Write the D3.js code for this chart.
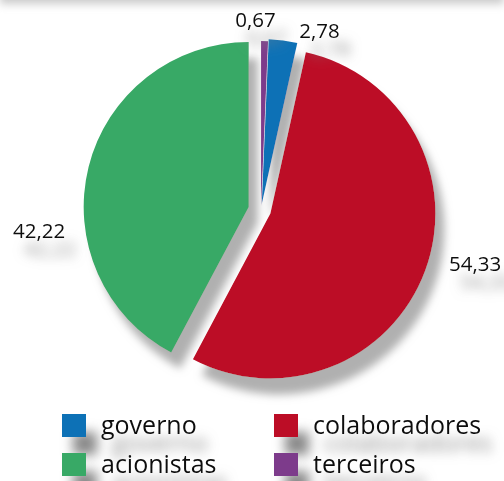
<!DOCTYPE html>
<html>
<head>
<meta charset="utf-8">
<script src="https://cdn.jsdelivr.net/npm/d3@7"></script>
<style>
  html, body { margin: 0; padding: 0; background: #fff; }
  svg { display: block; }
  text { font-family: "Open Sans", "Noto Sans", sans-serif; fill: #111; }
</style>
</head>
<body>
<script>
// Value distribution, clockwise from 12 o'clock
const categories = ["terceiros", "governo", "colaboradores", "acionistas"];
const values = [0.67, 2.78, 54.33, 42.22];
const valueLabels = ["0,67", "2,78", "54,33", "42,22"];
const colors = ["#7d3a8b", "#0c71b6", "#bc0b28", "#38a966"];
const legendOrder = ["governo", "colaboradores", "acionistas", "terceiros"];

const width = 504, height = 481;
const cx = 261, cy = 210, radius = 165;

// how far each slice is pulled out from the centre, px
const explode = { terceiros: 4, governo: 6, colaboradores: 10, acionistas: 12.7 };
// where each value label sits: angle (deg, clockwise from top) and distance from centre
const labelPlace = {
  terceiros:     { angle: -1.65, r: 190.6 },
  governo:       { angle: 18.1,  r: 188.3 },
  colaboradores: { angle: 104.0, r: 220.6 },
  acionistas:    { angle: -95.4, r: 222.8 }
};

const color = d3.scaleOrdinal().domain(categories).range(colors);
const labelOf = new Map(categories.map((c, i) => [c, valueLabels[i]]));

const svg = d3.select("body").append("svg")
  .attr("width", width).attr("height", height);

const defs = svg.append("defs");

// drop shadow: blurred, offset copy of the shape's alpha under the shape
function shadowFilter(id, blur, dx, dy, tone) {
  const f = defs.append("filter").attr("id", id)
    .attr("filterUnits", "userSpaceOnUse")
    .attr("x", -60).attr("y", -60).attr("width", width + 120).attr("height", height + 120);
  f.append("feGaussianBlur").attr("in", "SourceAlpha").attr("stdDeviation", blur).attr("result", "blur");
  f.append("feOffset").attr("in", "blur").attr("dx", dx).attr("dy", dy).attr("result", "off");
  f.append("feFlood").attr("flood-color", tone).attr("result", "col");
  f.append("feComposite").attr("in", "col").attr("in2", "off").attr("operator", "in").attr("result", "shadow");
  const m = f.append("feMerge");
  m.append("feMergeNode").attr("in", "shadow");
  m.append("feMergeNode").attr("in", "SourceGraphic");
}
shadowFilter("drop", 4.5, 9, 16, "#b0b0b0");
shadowFilter("textDrop", 6, 11, 18, "#8a8a8a");

const haze = defs.append("filter").attr("id", "haze")
  .attr("filterUnits", "userSpaceOnUse")
  .attr("x", -60).attr("y", -60).attr("width", width + 120).attr("height", 120);
haze.append("feGaussianBlur").attr("stdDeviation", 4);

// soft band left by the heading's shadow along the top edge
svg.append("rect")
  .attr("x", 0).attr("y", -14).attr("width", width).attr("height", 18)
  .attr("fill", "#cbcbcb").attr("filter", "url(#haze)");

const pie = d3.pie().sort(null).value(d => d.value);
const arcs = pie(categories.map((c, i) => ({ key: c, value: values[i] })));
const arc = d3.arc().innerRadius(0).outerRadius(radius);

const pieG = svg.append("g").attr("filter", "url(#drop)")
  .append("g").attr("transform", `translate(${cx},${cy})`);

pieG.selectAll("path")
  .data(arcs)
  .join("path")
  .attr("transform", d => {
    const mid = (d.startAngle + d.endAngle) / 2;
    const [dx, dy] = d3.pointRadial(mid, explode[d.data.key]);
    return `translate(${dx},${dy})`;
  })
  .attr("d", arc)
  .attr("fill", d => color(d.data.key));

// value labels
const labelG = svg.append("g").attr("filter", "url(#textDrop)")
  .append("g").attr("transform", `translate(${cx},${cy})`);
labelG.selectAll("text")
  .data(arcs)
  .join("text")
  .each(function (d) {
    const p = labelPlace[d.data.key];
    const [x, y] = d3.pointRadial(p.angle * Math.PI / 180, p.r);
    d3.select(this).attr("x", x).attr("y", y);
  })
  .attr("dy", "0.35em")
  .attr("text-anchor", "middle")
  .attr("font-size", 20.5)
  .text(d => labelOf.get(d.data.key));

// legend, two columns
const legend = svg.append("g").attr("filter", "url(#textDrop)");
const lx = d3.scalePoint().domain([0, 1]).range([62, 274]);
const ly = d3.scalePoint().domain([0, 1]).range([414, 453]);
const items = legend.selectAll("g")
  .data(legendOrder)
  .join("g")
  .attr("transform", (d, i) => `translate(${lx(i % 2)},${ly(Math.floor(i / 2))})`);
items.append("rect")
  .attr("width", 24).attr("height", 23)
  .attr("fill", d => color(d));
items.append("text")
  .attr("x", 39).attr("y", 20)
  .attr("font-size", 25)
  .text(d => d);
</script>
</body>
</html>
